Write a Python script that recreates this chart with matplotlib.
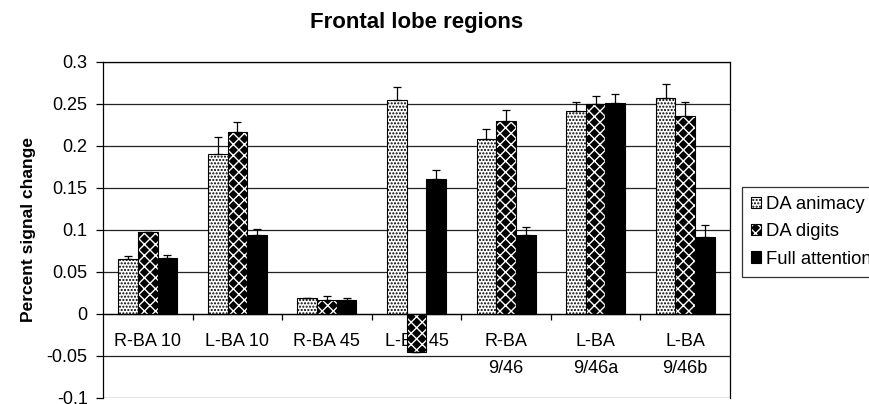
import numpy as np
import matplotlib
matplotlib.use("Agg")
import matplotlib.pyplot as plt
from matplotlib.ticker import FuncFormatter

plt.rcParams['font.family'] = ['Liberation Sans', 'DejaVu Sans']
plt.rcParams['hatch.linewidth'] = 1.0
plt.rcParams['hatch.color'] = 'white'

# data
regions = ["R-BA 10", "L-BA 10", "R-BA 45", "L-BA 45", "R-BA\n9/46", "L-BA\n9/46a", "L-BA\n9/46b"]
series = ["DA animacy", "DA digits", "Full attention"]
animacy = [0.065, 0.190, 0.019, 0.255, 0.208, 0.241, 0.257]
animacy_err = [0.004, 0.020, 0.0, 0.015, 0.0125, 0.0105, 0.016]
digits = [0.097, 0.216, 0.017, -0.045, 0.230, 0.250, 0.236]
digits_err = [0.0, 0.0125, 0.004, 0.0, 0.0125, 0.0095, 0.016]
full_att = [0.066, 0.094, 0.017, 0.161, 0.094, 0.251, 0.091]
full_err = [0.0045, 0.0065, 0.0015, 0.0097, 0.0095, 0.011, 0.015]

values = [animacy, digits, full_att]
errors = [animacy_err, digits_err, full_err]

fig = plt.figure(figsize=(8.7, 4.04), dpi=100)
ax = fig.add_axes([103 / 870, 1 - 398 / 404, 627 / 870, (398 - 61.7) / 404])

x = np.arange(len(regions))
w = 0.22
handles = []
for i, (vals, errs) in enumerate(zip(values, errors)):
    pos = x + (i - 1) * w
    if i == 0:
        # white bar, black dots
        b = ax.bar(pos, vals, width=w, facecolor="white", edgecolor="black",
                   hatch=".....", linewidth=0.8, zorder=3)
        handles.append(b)
    elif i == 1:
        # dark bar with white cross hatch -> checker look, outline drawn on top
        b1 = ax.bar(pos, vals, width=w, facecolor="black", hatch="xxx",
                    linewidth=0, zorder=3)
        b2 = ax.bar(pos, vals, width=w, fill=False, edgecolor="black",
                    linewidth=0.8, zorder=3.5)
        handles.append((b1, b2))
    else:
        b = ax.bar(pos, vals, width=w, facecolor="black", edgecolor="black",
                   linewidth=0.8, zorder=3)
        handles.append(b)
    lower = np.zeros(len(vals))
    ax.errorbar(pos, vals, yerr=[lower, errs], fmt="none", ecolor="black",
                elinewidth=0.9, capsize=3, capthick=0.9, zorder=4)

ax.set_xlim(-0.5, len(regions) - 0.5)
ax.set_ylim(-0.1, 0.3)
ax.set_yticks(np.arange(-0.1, 0.31, 0.05))
ax.yaxis.set_major_formatter(FuncFormatter(lambda v, p: "%g" % round(v, 2)))
ax.yaxis.grid(True, color="#222222", linewidth=0.9, zorder=0)
ax.set_axisbelow(True)
ax.tick_params(axis="y", direction="out", length=5, width=0.9, labelsize=13, pad=6)

# x axis sits at zero, ticks between groups, labels at group centres
ax.spines["bottom"].set_position(("data", 0))
ax.spines["bottom"].set_zorder(5)
ax.set_xticks(np.arange(0.5, len(regions) - 1, 1.0))
ax.set_xticklabels([])
ax.tick_params(axis="x", which="major", direction="out", length=4, width=0.9)
ax.set_xticks(x, minor=True)
ax.set_xticklabels(regions, minor=True, fontsize=13, linespacing=1.75)
ax.tick_params(axis="x", which="minor", length=0, pad=14)
for sp in ax.spines.values():
    sp.set_linewidth(0.9)

ax.set_title("Frontal lobe regions", fontsize=16, fontweight="bold", pad=24)
ax.set_ylabel("Percent signal change", fontsize=12.5, fontweight="bold", labelpad=8)

leg = fig.legend(handles, series, loc="upper left", bbox_to_anchor=(742 / 870, 1 - 187 / 404),
                 fontsize=13.3, frameon=True, fancybox=False, edgecolor="black",
                 handlelength=0.55, handleheight=0.55, handletextpad=0.25,
                 borderpad=0.5, labelspacing=0.55, borderaxespad=0)
leg.get_frame().set_linewidth(0.9)

fig.savefig("out.png", dpi=100)
